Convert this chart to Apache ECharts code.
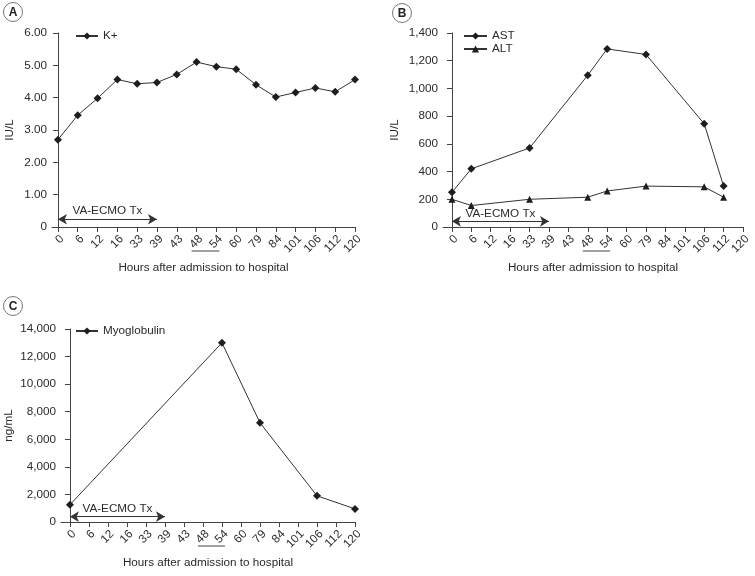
<!DOCTYPE html>
<html><head><meta charset="utf-8">
<script src="https://cdn.jsdelivr.net/npm/echarts@6/dist/echarts.min.js"></script>
<style>html,body{margin:0;padding:0;background:#fff}#c{width:755px;height:576px}</style>
</head><body><div id="c"></div>
<script>
const categories = ['0','6','12','16','33','39','43','48','54','60','79','84','101','106','112','120'];
const kHours = ['0','6','12','16','33','39','43','48','54','60','79','84','101','106','112','120'];
const kValues = [2.70,3.46,3.98,4.56,4.43,4.47,4.72,5.10,4.96,4.88,4.40,4.02,4.16,4.30,4.18,4.56];
const astHours = ['0','6','33','48','54','79','106','112'];
const astValues = [250,420,570,1095,1285,1245,745,295];
const altHours = ['0','6','33','48','54','79','106','112'];
const altValues = [200,155,200,215,260,295,290,215];
const myoHours = ['0','54','79','106','120'];
const myoValues = [1250,13000,7200,1900,950];
const ecmoRange = ['0','39'];
const ecmoLabel = 'VA-ECMO Tx';
const underlined = ['48','54'];
const xName = 'Hours after admission to hospital';
const yTicksA = [0,1,2,3,4,5,6];
const yTicksB = [0,200,400,600,800,1000,1200,1400];
const yTicksC = [0,2000,4000,6000,8000,10000,12000,14000];

const FONT = 'Liberation Sans, Arial, sans-serif';
const TXT = '#2a2a2a';
const AX = '#444';
const FS = 11.7;

const idx = h => categories.indexOf(h);
const pairs = (hs, vs) => hs.map((h,i)=>[idx(h), vs[i]]);

const chart = echarts.init(document.getElementById('c'), null, {renderer:'canvas'});

function xAxisDef(gi, minOff){
  return {
    type:'value', gridIndex:gi, min:-minOff, max:categories.length-1,
    name:xName, nameLocation:'middle', nameGap:35,
    nameTextStyle:{color:TXT, fontSize:FS, fontFamily:FONT},
    axisLine:{show:true, onZero:false, lineStyle:{color:AX, width:1}},
    axisTick:{show:true, length:5, customValues:categories.map((c,i)=>i), lineStyle:{color:AX}},
    axisLabel:{show:true, rotate:45, margin:6, verticalAlign:'top', color:TXT, fontSize:FS, fontFamily:FONT,
      customValues:categories.map((c,i)=>i), formatter:v=>categories[Math.round(v)]},
    splitLine:{show:false}
  };
}
function yAxisDef(gi, ticks, fmt, name, gap){
  return {
    type:'value', gridIndex:gi, min:ticks[0], max:ticks[ticks.length-1], interval:ticks[1]-ticks[0],
    name:name, nameLocation:'middle', nameGap:gap,
    nameTextStyle:{color:TXT, fontSize:FS, fontFamily:FONT},
    axisLine:{show:true, lineStyle:{color:AX, width:1}},
    axisTick:{show:true, length:5, lineStyle:{color:AX}},
    axisLabel:{color:TXT, fontSize:FS, fontFamily:FONT, margin:5, formatter:fmt},
    splitLine:{show:false}
  };
}
function ecmoLine(yv){
  return {
    silent:true, animation:false,
    symbol:['arrow','arrow'], symbolSize:[8,9],
    lineStyle:{color:'#333', width:1.2, type:'solid'},
    label:{show:true, position:'insideMiddleTop', distance:2, formatter:ecmoLabel,
      color:TXT, fontSize:FS, fontFamily:FONT},
    emphasis:{disabled:true},
    data:[[{coord:[idx(ecmoRange[0]), yv]},{coord:[idx(ecmoRange[1]), yv]}]]
  };
}
const lineStyle = {color:'#333', width:1};
const itemStyle = {color:'#1e1e1e'};

const comma = v => v.toLocaleString('en-US');
const fixed2 = v => v === 0 ? '0' : v.toFixed(2);
const legendText = {color:TXT, fontSize:FS, fontFamily:FONT};

const option = {
  animation:false,
  textStyle:{fontFamily:FONT},
  grid:[
    {left:52, right:400, top:33, bottom:349},
    {left:443, right:12, top:33, bottom:349},
    {left:61, right:400, top:329, bottom:54}
  ],
  xAxis:[xAxisDef(0,0.30), xAxisDef(1,0.46), xAxisDef(2,0.47)],
  yAxis:[
    yAxisDef(0, yTicksA, fixed2, 'IU/L', 36),
    yAxisDef(1, yTicksB, comma, 'IU/L', 42),
    yAxisDef(2, yTicksC, comma, 'ng/mL', 46)
  ],
  legend:[
    {data:['K+'], left:75, top:30, padding:0, itemWidth:22, itemHeight:9, itemGap:4, textStyle:legendText},
    {data:['AST','ALT'], orient:'vertical', left:463, top:30, padding:0, itemWidth:23, itemHeight:9, itemGap:1, textStyle:legendText},
    {data:['Myoglobulin'], left:75, top:325, padding:0, itemWidth:22, itemHeight:9, textStyle:legendText}
  ],
  series:[
    {name:'K+', type:'line', xAxisIndex:0, yAxisIndex:0, data:pairs(kHours,kValues),
      symbol:'diamond', symbolSize:8, lineStyle, itemStyle, markLine:ecmoLine(0.24)},
    {name:'AST', type:'line', xAxisIndex:1, yAxisIndex:1, data:pairs(astHours,astValues),
      symbol:'diamond', symbolSize:8, lineStyle, itemStyle, markLine:ecmoLine(41)},
    {name:'ALT', type:'line', xAxisIndex:1, yAxisIndex:1, data:pairs(altHours,altValues),
      symbol:'triangle', symbolSize:7, lineStyle, itemStyle},
    {name:'Myoglobulin', type:'line', xAxisIndex:2, yAxisIndex:2, data:pairs(myoHours,myoValues),
      symbol:'diamond', symbolSize:8, lineStyle, itemStyle, markLine:ecmoLine(384)}
  ]
};
chart.setOption(option);

// panel letters and underline annotations
const graphics = [];
[['A',13,12],['B',402,13],['C',13,306]].forEach(([t,x,y])=>{
  graphics.push({type:'circle', shape:{cx:x, cy:y, r:9.5}, style:{fill:'#fff', stroke:'#777', lineWidth:1}});
  graphics.push({type:'text', x:x, y:y+0.5, style:{text:t, fill:'#222', font:'bold 12px '+FONT, align:'center', verticalAlign:'middle'}});
});
[0,1,2].forEach(gi=>{
  const x1 = chart.convertToPixel({xAxisIndex:gi}, idx(underlined[0])) - 5;
  const x2 = chart.convertToPixel({xAxisIndex:gi}, idx(underlined[1])) + 3;
  const y0 = chart.convertToPixel({yAxisIndex:gi}, 0) + 24;
  graphics.push({type:'line', shape:{x1:x1, y1:y0, x2:x2, y2:y0}, style:{stroke:'#444', lineWidth:1}});
});
chart.setOption({graphic:graphics});
</script></body></html>
